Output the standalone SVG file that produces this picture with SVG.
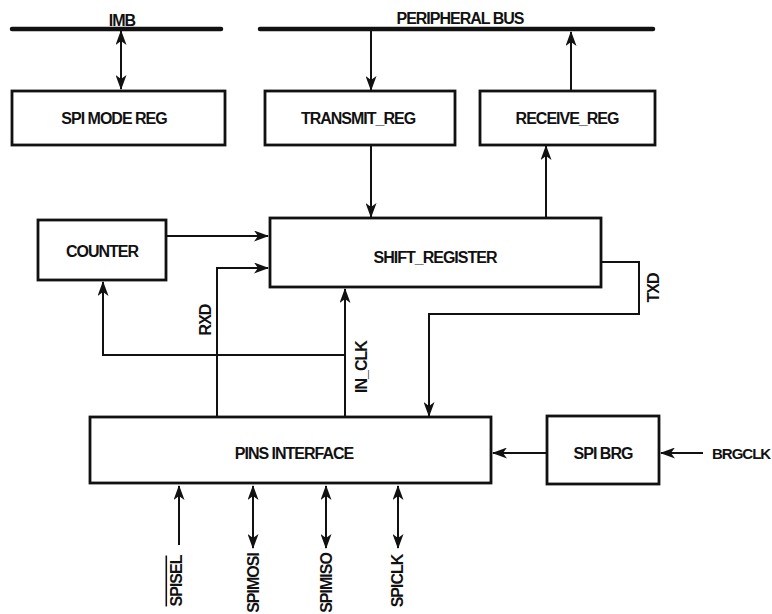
<svg xmlns="http://www.w3.org/2000/svg" width="772" height="614" viewBox="0 0 772 614">
<style>
.box{fill:#fff;stroke:#111;stroke-width:2.8}
.bus{stroke:#111;stroke-width:4.5;stroke-linecap:round}
.w{fill:none;stroke:#111;stroke-width:2}
.t{font-family:"Liberation Sans",Arial,sans-serif;font-weight:bold;font-size:16px;letter-spacing:-1px;fill:#111;text-anchor:middle;dominant-baseline:central}
</style>
<defs>
<marker id="ah" viewBox="0 0 15 11" refX="14" refY="5.5" markerWidth="15" markerHeight="11" markerUnits="userSpaceOnUse" orient="auto-start-reverse">
<path d="M0,0 L15,5.5 L0,11 L4,5.5 z" fill="#111"/>
</marker>
</defs>
<rect width="772" height="614" fill="#fff"/>
<g id="buses">
<line class="bus" x1="12" y1="29" x2="221" y2="29"/>
<text class="t" x="122" y="20">IMB</text>
<line class="bus" x1="260" y1="29" x2="653" y2="29"/>
<text class="t" x="460" y="18">PERIPHERAL BUS</text>
</g>
<g id="connectors">
<line class="w" x1="121" y1="31" x2="121" y2="89" marker-start="url(#ah)" marker-end="url(#ah)"/>
<line class="w" x1="371" y1="31" x2="371" y2="90" marker-end="url(#ah)"/>
<line class="w" x1="571" y1="91" x2="571" y2="32" marker-end="url(#ah)"/>
<line class="w" x1="371" y1="145" x2="371" y2="217" marker-end="url(#ah)"/>
<line class="w" x1="546" y1="218" x2="546" y2="146" marker-end="url(#ah)"/>
<line class="w" x1="166" y1="236" x2="268" y2="236" marker-end="url(#ah)"/>
<polyline class="w" points="217,418 217,268 268,268" marker-end="url(#ah)"/>
<line class="w" x1="345" y1="418" x2="345" y2="289" marker-end="url(#ah)"/>
<polyline class="w" points="345,355 103,355 103,282" marker-end="url(#ah)"/>
<polyline class="w" points="601,262 639,262 639,314 429,314 429,416" marker-end="url(#ah)"/>
<line class="w" x1="547" y1="453" x2="493" y2="453" marker-end="url(#ah)"/>
<line class="w" x1="703" y1="453" x2="661" y2="453" marker-end="url(#ah)"/>
<line class="w" x1="179" y1="545" x2="179" y2="486" marker-end="url(#ah)"/>
<line class="w" x1="253" y1="486" x2="253" y2="548" marker-start="url(#ah)" marker-end="url(#ah)"/>
<line class="w" x1="326" y1="486" x2="326" y2="548" marker-start="url(#ah)" marker-end="url(#ah)"/>
<line class="w" x1="398" y1="486" x2="398" y2="548" marker-start="url(#ah)" marker-end="url(#ah)"/>
<text class="t" transform="translate(205,320) rotate(-90)">RXD</text>
<text class="t" transform="translate(361,367) rotate(-90)">IN_CLK</text>
<text class="t" transform="translate(653,288) rotate(-90)">TXD</text>
<text class="t" x="712" y="453" style="text-anchor:start;font-size:15px">BRGCLK</text>
<text class="t" transform="translate(176,581) rotate(-90)" text-decoration="overline">SPISEL</text>
<text class="t" transform="translate(253,583) rotate(-90)">SPIMOSI</text>
<text class="t" transform="translate(326,583) rotate(-90)">SPIMISO</text>
<text class="t" transform="translate(397,581) rotate(-90)">SPICLK</text>
</g>
<g id="spi_mode_reg">
<rect class="box" x="12" y="91" width="213" height="54"/>
<text class="t" x="114" y="118">SPI MODE REG</text>
</g>
<g id="transmit_reg">
<rect class="box" x="265" y="91" width="190" height="54"/>
<text class="t" x="358" y="118">TRANSMIT_REG</text>
</g>
<g id="receive_reg">
<rect class="box" x="480" y="91" width="175" height="54"/>
<text class="t" x="567" y="118">RECEIVE_REG</text>
</g>
<g id="counter">
<rect class="box" x="38" y="220" width="128" height="60"/>
<text class="t" x="102" y="251">COUNTER</text>
</g>
<g id="shift_register">
<rect class="box" x="270" y="218" width="331" height="69"/>
<text class="t" x="435" y="257">SHIFT_REGISTER</text>
</g>
<g id="pins_interface">
<rect class="box" x="90" y="417" width="401" height="66"/>
<text class="t" x="294" y="453">PINS INTERFACE</text>
</g>
<g id="spi_brg">
<rect class="box" x="547" y="416" width="112" height="68"/>
<text class="t" x="603" y="453">SPI BRG</text>
</g>
</svg>
